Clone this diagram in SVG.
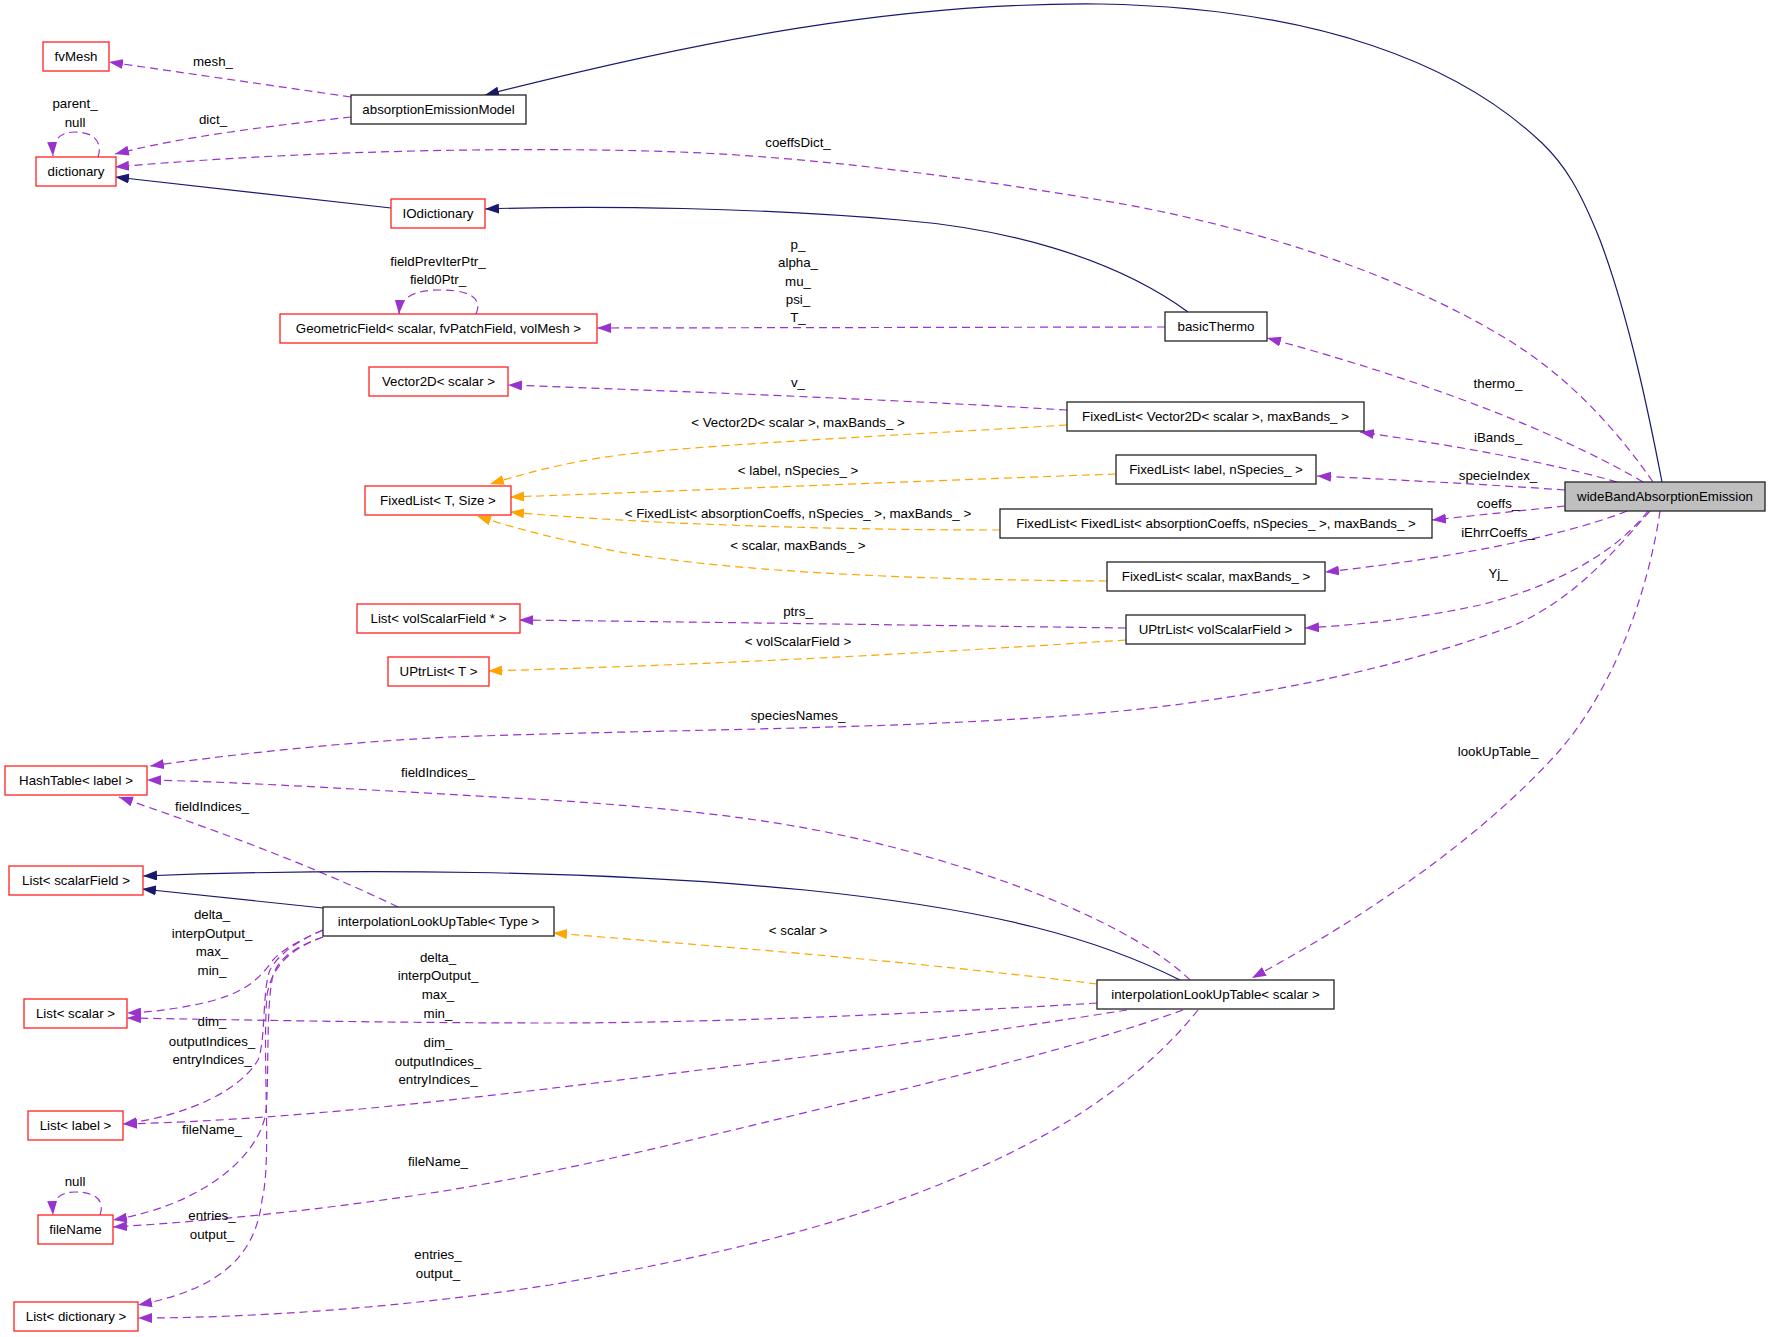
<svg xmlns="http://www.w3.org/2000/svg" width="1771" height="1337" viewBox="0 0 1771 1337">
<style>
text{font-family:"Liberation Sans",Arial,sans-serif;font-size:13.3px;fill:#000;text-anchor:middle}
.box{fill:#fff;stroke:#222;stroke-width:1.3}
.red{fill:#fff;stroke:#ff2020;stroke-width:1.3}
.cur{fill:#bfbfbf;stroke:#222;stroke-width:1.3}
.u{fill:none;stroke:#9a32cd;stroke-width:1.2;stroke-dasharray:8,5}
.t{fill:none;stroke:#ffa500;stroke-width:1.2;stroke-dasharray:8,5}
.i{fill:none;stroke:#191970;stroke-width:1.2}
.u{marker-end:url(#mu)}
.t{marker-end:url(#mt)}
.i{marker-end:url(#mi)}
</style>
<defs>
<marker id="mu" viewBox="0 0 14 10" refX="14" refY="5" markerWidth="14" markerHeight="10" markerUnits="userSpaceOnUse" orient="auto"><path d="M0,0 L14,5 L0,10 z" fill="#9a32cd"/></marker>
<marker id="mt" viewBox="0 0 14 10" refX="14" refY="5" markerWidth="14" markerHeight="10" markerUnits="userSpaceOnUse" orient="auto"><path d="M0,0 L14,5 L0,10 z" fill="#ffa500"/></marker>
<marker id="mi" viewBox="0 0 14 10" refX="14" refY="5" markerWidth="14" markerHeight="10" markerUnits="userSpaceOnUse" orient="auto"><path d="M0,0 L14,5 L0,10 z" fill="#191970"/></marker>
</defs>
<rect width="1771" height="1337" fill="#fff"/>
<g id="edges">
<path class="i" d="M1662,482 C1650,420 1630,320 1600,240 C1580,190 1565,165 1542,143 C1460,65 1320,8 1100,4 C900,2 700,40 485,95"/>
<path class="u" d="M351,97 L109,62"/>
<path class="u" d="M351,117 C280,125 190,135 115,154"/>
<path class="u" d="M98,157 C102,146 98,132 75,132 C60,132 52,140 53,156"/>
<path class="u" d="M1653,482 C1610,420 1560,370 1500,335 C1400,275 1250,225 1100,200 C950,175 800,155 650,151 C450,146 250,155 115,167"/>
<path class="i" d="M391,208 L115,177"/>
<path class="i" d="M1188,312 C1110,255 1000,228 900,220 C760,208 600,205 485,209"/>
<path class="u" d="M1165,327 L597,328"/>
<path class="u" d="M476,314 C481,303 478,290 440,290 C415,290 400,297 399,314"/>
<path class="u" d="M1643,482 C1580,445 1460,390 1267,338"/>
<path class="u" d="M1617,482 C1540,460 1450,445 1360,432"/>
<path class="u" d="M1565,490 C1480,484 1400,480 1317,476"/>
<path class="u" d="M1565,506 L1432,520"/>
<path class="u" d="M1627,511 C1580,530 1480,555 1325,572"/>
<path class="u" d="M1648,511 C1610,560 1540,590 1480,605 C1420,618 1360,625 1305,628"/>
<path class="u" d="M1650,511 C1615,550 1575,600 1510,627 C1420,660 1300,690 1150,708 C950,730 700,728 450,737 C350,742 250,752 150,766"/>
<path class="u" d="M1660,511 C1650,580 1620,680 1560,750 C1480,840 1360,920 1252,978"/>
<path class="u" d="M1067,410 C900,400 700,392 508,385"/>
<path class="t" d="M1067,425 C900,435 700,445 620,455 C560,463 520,475 490,484"/>
<path class="t" d="M1116,474 C900,482 700,490 510,497"/>
<path class="t" d="M1000,530 C850,530 650,525 510,512"/>
<path class="t" d="M1107,581 C900,580 700,570 600,548 C550,537 510,527 477,516"/>
<path class="u" d="M1126,628 C900,625 700,622 519,620"/>
<path class="t" d="M1126,640 C900,655 700,665 488,671"/>
<path class="u" d="M1190,980 C1150,940 1050,890 907,851 C800,822 700,810 550,800 C400,792 250,782 147,780"/>
<path class="u" d="M398,907 C300,860 200,825 119,797"/>
<path class="i" d="M1180,980 C1100,940 1000,910 805,890 C600,870 350,868 143,876"/>
<path class="i" d="M323,908 L142,889"/>
<path class="t" d="M1097,984 C900,960 700,945 553,933"/>
<path class="u" d="M1097,1003 C900,1015 700,1023 550,1023 C400,1023 250,1020 127,1018"/>
<path class="u" d="M323,930 C300,940 282,950 273,960 C262,975 250,990 215,1000 C185,1008 155,1012 127,1013"/>
<path class="u" d="M1127,1010 C1000,1030 850,1052 700,1070 C500,1095 300,1120 123,1124"/>
<path class="u" d="M323,930 C295,942 278,955 270,970 C262,990 266,1040 258,1060 C240,1090 190,1115 123,1124"/>
<path class="u" d="M1183,1010 C1100,1040 1000,1065 900,1090 C750,1125 600,1165 450,1190 C350,1206 230,1220 113,1227"/>
<path class="u" d="M323,937 C298,946 280,956 273,975 C265,1010 270,1090 265,1117 C255,1160 200,1205 113,1220"/>
<path class="u" d="M1198,1010 C1150,1070 1080,1120 1000,1158 C880,1215 750,1250 550,1285 C400,1308 250,1318 138,1318"/>
<path class="u" d="M323,937 C292,948 272,965 267,995 C262,1060 272,1160 262,1200 C255,1260 215,1290 138,1305"/>
<path class="u" d="M100,1215 C104,1204 100,1192 75,1192 C60,1192 52,1199 53,1215"/>
</g>
<g id="edge-labels">
<text x="213" y="66">mesh_</text>
<text x="213" y="124">dict_</text>
<text x="75" y="108">parent_</text>
<text x="75" y="127">null</text>
<text x="798" y="147">coeffsDict_</text>
<text x="438" y="266">fieldPrevIterPtr_</text>
<text x="438" y="284">field0Ptr_</text>
<text x="798" y="249">p_</text>
<text x="798" y="267">alpha_</text>
<text x="798" y="286">mu_</text>
<text x="798" y="304">psi_</text>
<text x="798" y="322">T_</text>
<text x="1498" y="388">thermo_</text>
<text x="1498" y="442">iBands_</text>
<text x="1498" y="480">specieIndex_</text>
<text x="1498" y="508">coeffs_</text>
<text x="1498" y="537">iEhrrCoeffs_</text>
<text x="1498" y="578">Yj_</text>
<text x="1498" y="756">lookUpTable_</text>
<text x="798" y="387">v_</text>
<text x="798" y="427">&lt; Vector2D&lt; scalar &gt;, maxBands_ &gt;</text>
<text x="798" y="475">&lt; label, nSpecies_ &gt;</text>
<text x="798" y="518">&lt; FixedList&lt; absorptionCoeffs, nSpecies_ &gt;, maxBands_ &gt;</text>
<text x="798" y="550">&lt; scalar, maxBands_ &gt;</text>
<text x="798" y="616">ptrs_</text>
<text x="798" y="646">&lt; volScalarField &gt;</text>
<text x="798" y="720">speciesNames_</text>
<text x="438" y="777">fieldIndices_</text>
<text x="212" y="811">fieldIndices_</text>
<text x="798" y="935">&lt; scalar &gt;</text>
<text x="212" y="919">delta_</text>
<text x="212" y="938">interpOutput_</text>
<text x="212" y="956">max_</text>
<text x="212" y="975">min_</text>
<text x="438" y="962">delta_</text>
<text x="438" y="980">interpOutput_</text>
<text x="438" y="999">max_</text>
<text x="438" y="1018">min_</text>
<text x="212" y="1026">dim_</text>
<text x="212" y="1046">outputIndices_</text>
<text x="212" y="1064">entryIndices_</text>
<text x="438" y="1047">dim_</text>
<text x="438" y="1066">outputIndices_</text>
<text x="438" y="1084">entryIndices_</text>
<text x="212" y="1134">fileName_</text>
<text x="438" y="1166">fileName_</text>
<text x="212" y="1220">entries_</text>
<text x="212" y="1239">output_</text>
<text x="438" y="1259">entries_</text>
<text x="438" y="1278">output_</text>
<text x="75" y="1186">null</text>
</g>
<g id="wideBandAbsorptionEmission"><rect class="cur" x="1565" y="482" width="200" height="29"/><text x="1665" y="501">wideBandAbsorptionEmission</text></g>
<g id="absorptionEmissionModel"><rect class="box" x="351" y="95" width="175" height="29"/><text x="438.5" y="114">absorptionEmissionModel</text></g>
<g id="fvMesh"><rect class="red" x="43" y="42" width="66" height="29"/><text x="76" y="61">fvMesh</text></g>
<g id="dictionary"><rect class="red" x="36" y="157" width="80" height="29"/><text x="76" y="176">dictionary</text></g>
<g id="IOdictionary"><rect class="red" x="391" y="199" width="94" height="29"/><text x="438" y="218">IOdictionary</text></g>
<g id="GeometricField"><rect class="red" x="280" y="314" width="317" height="29"/><text x="438.5" y="333">GeometricField&lt; scalar, fvPatchField, volMesh &gt;</text></g>
<g id="basicThermo"><rect class="box" x="1165" y="312" width="102" height="29"/><text x="1216" y="331">basicThermo</text></g>
<g id="Vector2D_scalar"><rect class="red" x="369" y="367" width="139" height="29"/><text x="438.5" y="386">Vector2D&lt; scalar &gt;</text></g>
<g id="FixedList_Vector2D"><rect class="box" x="1067" y="402" width="297" height="29"/><text x="1215.5" y="421">FixedList&lt; Vector2D&lt; scalar &gt;, maxBands_ &gt;</text></g>
<g id="FixedList_T_Size"><rect class="red" x="365" y="486" width="146" height="29"/><text x="438" y="505">FixedList&lt; T, Size &gt;</text></g>
<g id="FixedList_label"><rect class="box" x="1116" y="455" width="200" height="29"/><text x="1216" y="474">FixedList&lt; label, nSpecies_ &gt;</text></g>
<g id="FixedList_FixedList"><rect class="box" x="1000" y="509" width="432" height="29"/><text x="1216" y="528">FixedList&lt; FixedList&lt; absorptionCoeffs, nSpecies_ &gt;, maxBands_ &gt;</text></g>
<g id="FixedList_scalar"><rect class="box" x="1107" y="562" width="218" height="29"/><text x="1216" y="581">FixedList&lt; scalar, maxBands_ &gt;</text></g>
<g id="List_volScalarFieldPtr"><rect class="red" x="357" y="604" width="163" height="29"/><text x="438.5" y="623">List&lt; volScalarField * &gt;</text></g>
<g id="UPtrList_volScalarField"><rect class="box" x="1126" y="615" width="179" height="29"/><text x="1215.5" y="634">UPtrList&lt; volScalarField &gt;</text></g>
<g id="UPtrList_T"><rect class="red" x="388" y="657" width="101" height="29"/><text x="438.5" y="676">UPtrList&lt; T &gt;</text></g>
<g id="HashTable_label"><rect class="red" x="5" y="766" width="142" height="29"/><text x="76" y="785">HashTable&lt; label &gt;</text></g>
<g id="List_scalarField"><rect class="red" x="9" y="866" width="134" height="29"/><text x="76" y="885">List&lt; scalarField &gt;</text></g>
<g id="interpolationLookUpTable_Type"><rect class="box" x="323" y="907" width="231" height="29"/><text x="438.5" y="926">interpolationLookUpTable&lt; Type &gt;</text></g>
<g id="List_scalar"><rect class="red" x="24" y="999" width="103" height="29"/><text x="75.5" y="1018">List&lt; scalar &gt;</text></g>
<g id="interpolationLookUpTable_scalar"><rect class="box" x="1097" y="980" width="237" height="29"/><text x="1215.5" y="999">interpolationLookUpTable&lt; scalar &gt;</text></g>
<g id="List_label"><rect class="red" x="28" y="1111" width="95" height="29"/><text x="75.5" y="1130">List&lt; label &gt;</text></g>
<g id="fileName"><rect class="red" x="38" y="1215" width="75" height="29"/><text x="75.5" y="1234">fileName</text></g>
<g id="List_dictionary"><rect class="red" x="14" y="1302" width="124" height="29"/><text x="76" y="1321">List&lt; dictionary &gt;</text></g>
</svg>
